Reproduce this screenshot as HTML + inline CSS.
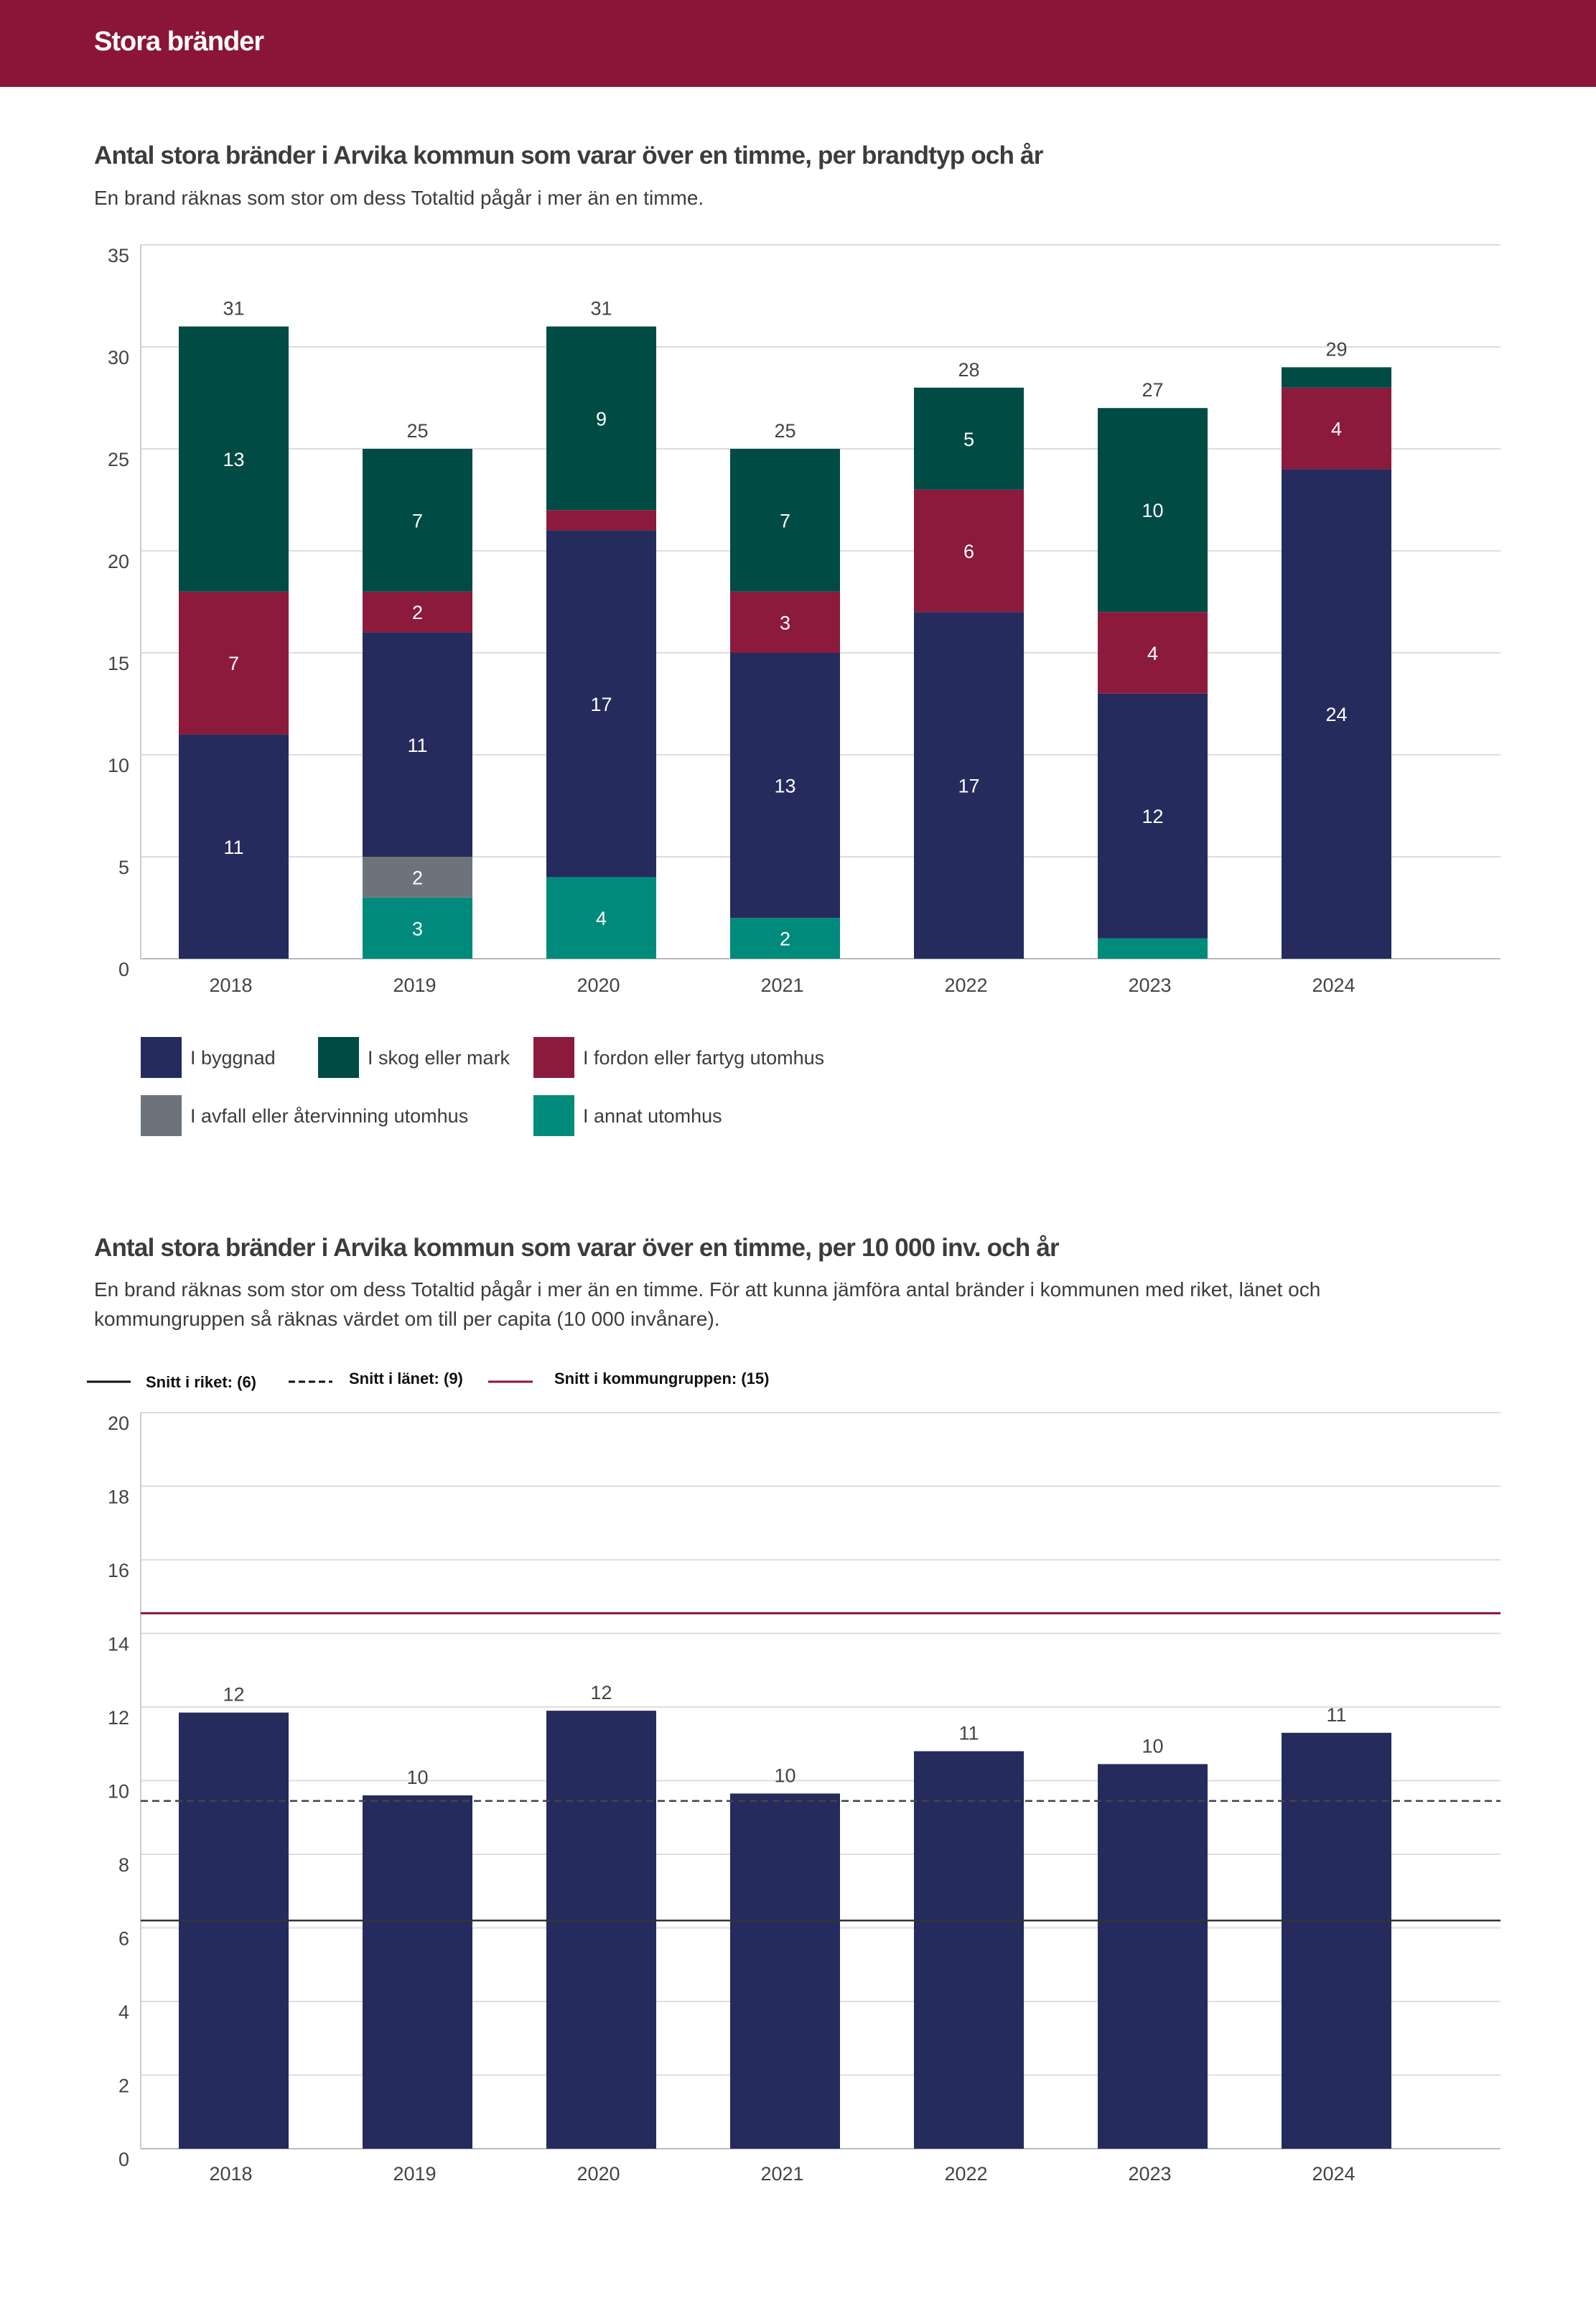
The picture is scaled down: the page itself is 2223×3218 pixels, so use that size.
<!DOCTYPE html>
<html><head><meta charset="utf-8"><style>
html,body{margin:0;padding:0;background:#fff}
body{width:2223px;height:3213px;overflow:hidden;font-family:"Liberation Sans",sans-serif}
svg text{font-family:"Liberation Sans",sans-serif}
</style></head><body>
<svg id="root" width="2223" height="3213" viewBox="0 0 2223 3213">
<rect x="0" y="0" width="2223" height="121" fill="#8b1538"/>
<text x="131" y="70" fill="#fff" font-size="38" font-weight="bold" letter-spacing="-1">Stora bränder</text>
<text x="131" y="228" fill="#3c3c3c" font-size="35" font-weight="bold" letter-spacing="-0.8">Antal stora bränder i Arvika kommun som varar över en timme, per brandtyp och år</text>
<text x="131" y="285" fill="#3c3c3c" font-size="28">En brand räknas som stor om dess Totaltid pågår i mer än en timme.</text>
<g id="c1"></g>
<g id="lg1"></g>
<text x="131" y="1749" fill="#3c3c3c" font-size="35" font-weight="bold" letter-spacing="-0.8">Antal stora bränder i Arvika kommun som varar över en timme, per 10 000 inv. och år</text>
<text x="131" y="1805" fill="#3c3c3c" font-size="28">En brand räknas som stor om dess Totaltid pågår i mer än en timme. För att kunna jämföra antal bränder i kommunen med riket, länet och</text>
<text x="131" y="1846" fill="#3c3c3c" font-size="28">kommungruppen så räknas värdet om till per capita (10 000 invånare).</text>
<g id="lg2">
<line x1="121" y1="1924" x2="182" y2="1924" stroke="#111" stroke-width="3"/>
<text x="203" y="1932" font-size="22" font-weight="bold" fill="#111">Snitt i riket: (6)</text>
<line x1="402" y1="1924" x2="463" y2="1924" stroke="#111" stroke-width="3" stroke-dasharray="9,5"/>
<text x="486" y="1927" font-size="22" font-weight="bold" fill="#111">Snitt i länet: (9)</text>
<line x1="680" y1="1924" x2="742" y2="1924" stroke="#8b1538" stroke-width="3"/>
<text x="772" y="1927" font-size="22" font-weight="bold" fill="#111">Snitt i kommungruppen: (15)</text>
</g>
<g id="c2"></g>
</svg>
<script>
const years = ["2018","2019","2020","2021","2022","2023","2024"];
const seriesNames = ["I annat utomhus","I avfall eller återvinning utomhus","I byggnad","I fordon eller fartyg utomhus","I skog eller mark"];
const annat = [0,3,4,2,0,1,0];
const avfall = [0,2,0,0,0,0,0];
const byggnad = [11,11,17,13,17,12,24];
const fordon = [7,2,1,3,6,4,4];
const skog = [13,7,9,7,5,10,1];
const ticks1 = [0,5,10,15,20,25,30,35];
const perCapita = [11.85,9.6,11.9,9.65,10.8,10.45,11.3];
const perCapitaLabels = ["12","10","12","10","11","10","11"];
const ticks2 = [0,2,4,6,8,10,12,14,16,18,20];
const avgRiket = 6.2, avgLanet = 9.45, avgKommungrupp = 14.55;

const NS="http://www.w3.org/2000/svg";
function mk(tag,attrs,parent,txt){const e=document.createElementNS(NS,tag);for(const k in attrs)e.setAttribute(k,attrs[k]);if(txt!=null)e.textContent=txt;parent.appendChild(e);return e;}
const colors=["#008a7c","#6c737b","#252b5c","#8c1a3c","#004b44"];
const left=196,right=2090,bw=153;
function xc(i){return 325.5+i*256;}

// chart 1
const c1=document.getElementById('c1');
const y1=v=>1335-v*(994/35);
ticks1.forEach(t=>{
  const l=mk('line',{x1:left,x2:right,y1:y1(t),y2:y1(t),stroke:t===0?'#bbb':'#ddd','stroke-width':2},c1);
  
  
  const tx=mk('text',{x:180,y:y1(t)+24,'text-anchor':'end','font-size':27,fill:'#444'},c1,String(t));
  
  
});
mk('line',{x1:left,x2:left,y1:y1(35),y2:y1(0),stroke:'#ccc','stroke-width':2},c1);
const stacks=[annat,avfall,byggnad,fordon,skog];
years.forEach((yr,i)=>{
  let base=0;
  stacks.forEach((s,k)=>{
    const v=s[i]; if(v<=0)return;
    const r=mk('rect',{x:xc(i)-bw/2,y:y1(base+v),width:bw,height:y1(base)-y1(base+v),fill:colors[k]},c1);
    
    
    if(v>=2){
      const t=mk('text',{x:xc(i),y:(y1(base)+y1(base+v))/2+10,'text-anchor':'middle','font-size':27,fill:'#fff'},c1,String(v));
      
      
    }
    base+=v;
  });
  const tt=mk('text',{x:xc(i),y:y1(base)-16,'text-anchor':'middle','font-size':27,fill:'#444'},c1,String(base));
  
  
  const xl=mk('text',{x:xc(i)-4,y:1381,'text-anchor':'middle','font-size':27,fill:'#444'},c1,yr);
  
  
});
// legend 1
const lg1=document.getElementById('lg1');
const legendItems=[[2,196,1444],[4,443,1444],[3,743,1444],[1,196,1525],[0,743,1525]];
legendItems.forEach(([k,x,y])=>{
  const r=mk('rect',{x:x,y:y,width:57,height:57,fill:colors[k]},lg1);
  
  
  const t=mk('text',{x:x+69,y:y+38,'font-size':27,fill:'#3c3c3c'},lg1,seriesNames[k]);
  
  
});

// chart 2
const c2=document.getElementById('c2');
const y2=v=>2992-v*(1025/20);
ticks2.forEach(t=>{
  const l=mk('line',{x1:left,x2:right,y1:y2(t),y2:y2(t),stroke:t===0?'#bbb':'#ddd','stroke-width':2},c2);
  
  
  const tx=mk('text',{x:180,y:y2(t)+24,'text-anchor':'end','font-size':27,fill:'#444'},c2,String(t));
  
  
});
mk('line',{x1:left,x2:left,y1:y2(20),y2:y2(0),stroke:'#ccc','stroke-width':2},c2);
years.forEach((yr,i)=>{
  const v=perCapita[i];
  const r=mk('rect',{x:xc(i)-bw/2,y:y2(v),width:bw,height:y2(0)-y2(v),fill:'#252b5c'},c2);
  
  
  const t=mk('text',{x:xc(i),y:y2(v)-16,'text-anchor':'middle','font-size':27,fill:'#444'},c2,perCapitaLabels[i]);
  
  
  const xl=mk('text',{x:xc(i)-4,y:3036,'text-anchor':'middle','font-size':27,fill:'#444'},c2,yr);
  
  
});
const lk=mk('line',{x1:left,x2:right,y1:y2(avgKommungrupp),y2:y2(avgKommungrupp),stroke:'#8b1538','stroke-width':3},c2);


const ll=mk('line',{x1:left,x2:right,y1:y2(avgLanet),y2:y2(avgLanet),stroke:'#444','stroke-width':2.5,'stroke-dasharray':'10,6'},c2);


const lr=mk('line',{x1:left,x2:right,y1:y2(avgRiket),y2:y2(avgRiket),stroke:'#333','stroke-width':2.5},c2);


</script>
</body></html>
